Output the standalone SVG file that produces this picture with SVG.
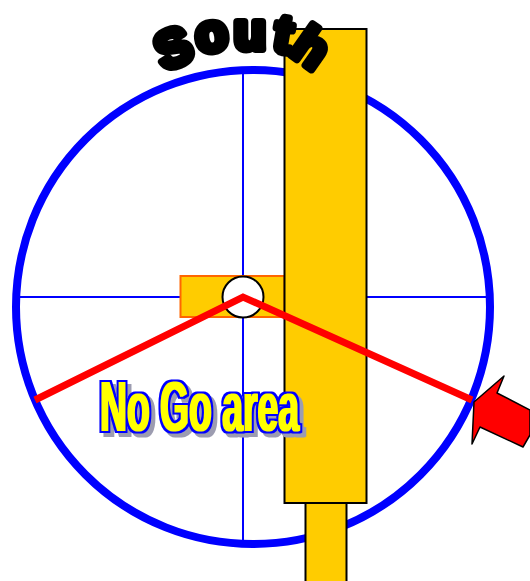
<svg xmlns="http://www.w3.org/2000/svg" width="530" height="581" viewBox="0 0 530 581">
<style>
.gold{fill:#ffcc00;stroke:#000;stroke-width:2}
.cross{stroke:#0000ff;stroke-width:2;fill:none}
.south{font-family:"Liberation Sans",Arial,sans-serif;font-weight:bold;font-size:52px;fill:#000;stroke:#000;stroke-width:8;stroke-linejoin:round}
.nogo{font-family:"Liberation Sans",Arial,sans-serif;font-weight:bold;font-size:71px;fill:#ffff00}
</style>
<defs>
<filter id="wordart" x="-10%" y="-25%" width="120%" height="150%" color-interpolation-filters="sRGB">
<feMorphology in="SourceAlpha" operator="dilate" radius="0.6 0.3" result="fat"/>
<feFlood flood-color="#ffff00"/>
<feComposite in2="fat" operator="in" result="face"/>
<feMorphology in="fat" operator="dilate" radius="2" result="wide"/>
<feFlood flood-color="#0000ff"/>
<feComposite in2="wide" operator="in" result="edge"/>
<feOffset in="wide" dx="4" dy="4" result="off"/>
<feGaussianBlur in="off" stdDeviation="0.7" result="soft"/>
<feFlood flood-color="#9c9cb0"/>
<feComposite in2="soft" operator="in" result="shadow"/>
<feMerge><feMergeNode in="shadow"/><feMergeNode in="edge"/><feMergeNode in="face"/></feMerge>
</filter>
</defs>
<rect width="530" height="581" fill="#fff"/>
<g id="dial">
<circle cx="253" cy="307" r="237" fill="none" stroke="#0000ff" stroke-width="8"/>
<path class="cross" d="M243 72V542M18 297H180M367 297H490"/>
</g>
<g id="bar-lower"><rect class="gold" x="305.500" y="503" width="41" height="85"/></g>
<g id="hub">
<rect x="180.500" y="276" width="104" height="41" fill="#ffcc00" stroke="#ff6600" stroke-width="2"/>
<circle cx="243" cy="297" r="20.500" fill="#fff" stroke="#000" stroke-width="2"/>
</g>
<g id="bar-main"><rect class="gold" x="284.500" y="29" width="82" height="474"/></g>
<g id="connectors">
<path d="M35 400L243 297L472 400" fill="none" stroke="#ff0000" stroke-width="7"/>
</g>
<g id="arrow">
<path d="M474 402L504 376L497 393L530 410V435L523 447L480 427L472 444Z" fill="#ff0000" stroke="#000" stroke-width="1.500" stroke-linejoin="round"/>
</g>
<g id="no-go-label">
<text class="nogo" x="100" y="431" textLength="199" lengthAdjust="spacingAndGlyphs" filter="url(#wordart)">No Go area</text>
</g>
<g id="south-label">
<text class="south" x="164 198 234 272 288" y="71 53 49 50 53" rotate="-22 -8 0 10 35">South</text>
</g>
</svg>
